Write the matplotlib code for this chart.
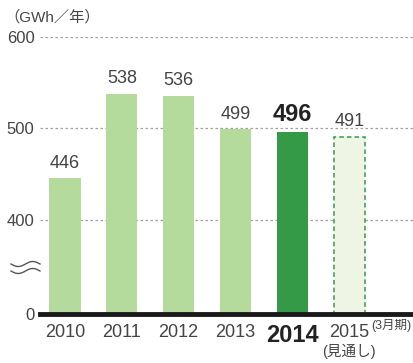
import numpy as np
import matplotlib.pyplot as plt

plt.rcParams['font.family'] = ['Liberation Sans', 'Noto Sans CJK JP']

# Annual output, GWh per year
years = ['2010', '2011', '2012', '2013', '2014', '2015']
values = [446, 538, 536, 499, 496, 491]
ytick_vals = [0, 400, 500, 600]

light = '#b5db9c'
dark = '#359a48'
forecast_fill = '#eef5e5'
text_col = '#444444'


# broken axis: 0-400 squeezed, 400-600 linear
def fwd(v):
    v = np.asarray(v, dtype=float)
    return np.where(v < 400, v / 4.0 * 1.03, v - 300 + 3)


def inv(y):
    y = np.asarray(y, dtype=float)
    return np.where(y < 103, y / 1.03 * 4.0, y + 300 - 3)


fig = plt.figure(figsize=(4.14, 3.63), dpi=100)
ax = fig.add_axes([40 / 414, 1 - 314 / 363, 1 - 40 / 414, (314 - 37) / 363])
ax.set_yscale('function', functions=(fwd, inv))
ax.set_ylim(0, 600)
ax.set_xlim(-0.44, 6.14)

x = np.arange(len(years))
w = 0.55
for i, (yr, v) in enumerate(zip(years, values)):
    if yr == '2014':
        ax.bar(i, v, width=w, color=dark, zorder=2)
    elif yr == '2015':
        ax.bar(i, v, width=w, facecolor=forecast_fill, edgecolor=dark,
               linestyle=(0, (3, 2)), linewidth=1.1, zorder=2)
    else:
        ax.bar(i, v, width=w, color=light, zorder=2)

# value labels
for i, (yr, v) in enumerate(zip(years, values)):
    if yr == '2014':
        ax.annotate(str(v), (i, v), xytext=(0, 4.5), textcoords='offset points',
                    ha='center', va='bottom', fontsize=17, fontweight='bold',
                    color='#222222')
    else:
        ax.annotate(str(v), (i, v), xytext=(0, 4.5), textcoords='offset points',
                    ha='center', va='bottom', fontsize=13, color=text_col)

# dotted grid lines
for t in ytick_vals[1:]:
    ax.axhline(t, color='#a0a0a0', linestyle=(0, (2, 2)), linewidth=0.9, zorder=1)

# thick baseline
ax.axhline(0, color='#1a1a1a', linewidth=3.5, zorder=3, clip_on=False)

for s in ax.spines.values():
    s.set_visible(False)
ax.set_yticks(ytick_vals)
ax.set_yticklabels([str(t) for t in ytick_vals])
ax.tick_params(axis='y', length=0, pad=4, labelsize=12, labelcolor=text_col)
ax.set_xticks(x)
ax.set_xticklabels(years)
ax.tick_params(axis='x', length=0, pad=7.5, labelsize=13, labelcolor=text_col)
for lbl in ax.get_xticklabels():
    if lbl.get_text() == '2014':
        lbl.set_fontsize(17)
        lbl.set_fontweight('bold')
        lbl.set_color('#222222')

# wavy break mark between 0 and 400
tt = np.linspace(0, 1, 60)
for dy in (0.0, 7.0):
    xs = (11 + 29 * tt) / 414
    ys = 1 - (264 + dy + 2.5 * np.sin(tt * 2 * np.pi)) / 363
    fig.add_artist(plt.Line2D(xs, ys, color='#555555', linewidth=1.0))

fig.text(4 / 414, 1 - 17 / 363, '（GWh／年）', fontsize=11, color=text_col,
         va='center', ha='left')
fig.text(411 / 414, 1 - 326 / 363, '(3月期)', fontsize=9, color=text_col,
         va='center', ha='right')
fig.text(349 / 414, 1 - 351 / 363, '(見通し)', fontsize=10.5, color=text_col,
         va='center', ha='center')

fig.savefig('out.png', dpi=100)
